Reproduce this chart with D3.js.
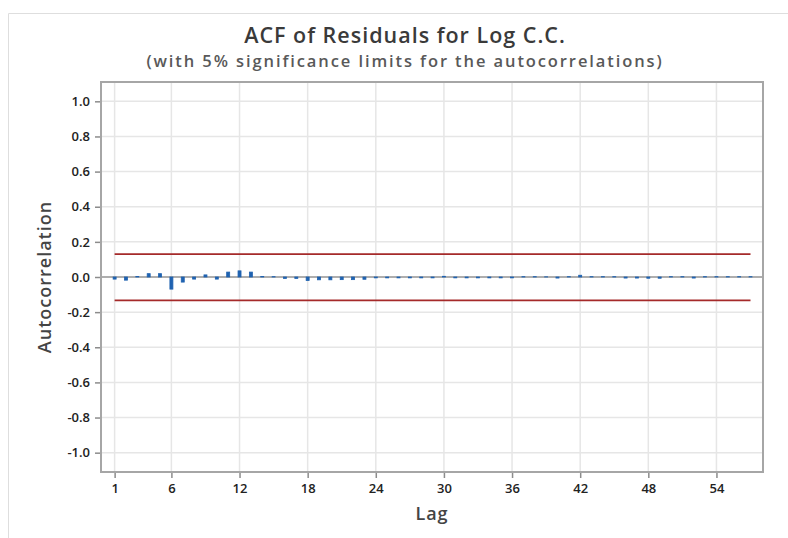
<!DOCTYPE html>
<html>
<head>
<meta charset="utf-8">
<script src="https://cdn.jsdelivr.net/npm/d3@7"></script>
<style>
  body { margin: 0; background: #fff; }
  text { font-family: "Open Sans", "Noto Sans", sans-serif; }
</style>
</head>
<body>
<div id="acf-chart"></div>
<script>
// ACF of residuals, lags 1..57
const lags = d3.range(1, 58);
const acf = [
  -0.012, -0.018, 0.003, 0.019, 0.019, -0.069, -0.029, -0.012, 0.012, -0.012,
  0.028, 0.035, 0.028, 0.003, 0.002, -0.008, -0.008, -0.020, -0.016, -0.016,
  -0.015, -0.015, -0.013, -0.005, -0.005, -0.005, -0.005, -0.005, -0.005, 0.004,
  -0.005, -0.005, -0.005, -0.005, -0.005, -0.005, 0.002, 0.002, 0.001, -0.006,
  0.002, 0.010, 0.002, 0.002, 0.002, -0.006, -0.006, -0.007, -0.007, 0.002,
  0.002, -0.006, 0.002, 0.002, 0.002, 0.002, 0.002
];
const upperLimit = 0.130, lowerLimit = -0.133;
const yTicks = d3.range(-1, 1.01, 0.2);
const xTicks = [1, 6, 12, 18, 24, 30, 36, 42, 48, 54];

const width = 788, height = 538;
const margin = {top: 82, right: 25, bottom: 66, left: 101};

const svg = d3.select("#acf-chart")
  .append("svg")
  .attr("width", width)
  .attr("height", height);

// light panel border
svg.append("path")
  .attr("d", "M8.5,538V13.5H788")
  .attr("fill", "none")
  .attr("stroke", "#dedede");

const x = d3.scaleLinear().domain([-0.2, 58.1]).range([margin.left, width - margin.right]);
const y = d3.scaleLinear().domain([-1.11, 1.11]).range([height - margin.bottom, margin.top]);

// gridlines
svg.append("g")
  .attr("stroke", "#e6e6e6")
  .attr("stroke-width", 1.5)
  .call(g => g.selectAll(".h").data(yTicks).join("line")
    .attr("x1", margin.left).attr("x2", width - margin.right)
    .attr("y1", d => y(d)).attr("y2", d => y(d)))
  .call(g => g.selectAll(".v").data(xTicks).join("line")
    .attr("x1", d => x(d)).attr("x2", d => x(d))
    .attr("y1", margin.top).attr("y2", height - margin.bottom));

// zero line
svg.append("line")
  .attr("x1", margin.left).attr("x2", width - margin.right)
  .attr("y1", y(0)).attr("y2", y(0))
  .attr("stroke", "#9a9a9a")
  .attr("stroke-width", 1.5);

// significance limits
svg.append("g")
  .attr("stroke", "#a52a2a")
  .attr("stroke-width", 1.8)
  .selectAll("line")
  .data([upperLimit, lowerLimit])
  .join("line")
  .attr("x1", x(lags[0])).attr("x2", x(lags[lags.length - 1]))
  .attr("y1", d => y(d)).attr("y2", d => y(d));

// acf bars
svg.append("g")
  .attr("fill", "#1f62b0")
  .attr("stroke", "#1f62b0")
  .attr("stroke-width", 0.8)
  .selectAll("rect")
  .data(lags)
  .join("rect")
  .attr("x", (d, i) => x(d) - 1.5)
  .attr("width", 3)
  .attr("y", (d, i) => y(Math.max(0, acf[i])))
  .attr("height", (d, i) => Math.abs(y(acf[i]) - y(0)));

// frame
svg.append("rect")
  .attr("x", margin.left).attr("y", margin.top)
  .attr("width", width - margin.left - margin.right)
  .attr("height", height - margin.top - margin.bottom)
  .attr("fill", "none")
  .attr("stroke", "#a6a6a6")
  .attr("stroke-width", 2);

// axes
const yAxis = svg.append("g")
  .attr("transform", `translate(${margin.left - 1},0)`)
  .call(d3.axisLeft(y).tickValues(yTicks).tickSize(5).tickPadding(5));
const xAxis = svg.append("g")
  .attr("transform", `translate(0,${height - margin.bottom + 1})`)
  .call(d3.axisBottom(x).tickValues(xTicks).tickSize(5).tickPadding(6));

[yAxis, xAxis].forEach(g => {
  g.select(".domain").remove();
  g.selectAll(".tick line").attr("stroke", "#8c8c8c").attr("stroke-width", 1.5);
  g.selectAll(".tick text")
    .attr("fill", "#222")
    .attr("font-size", 13)
    .attr("font-weight", 600)
    .attr("font-family", "Open Sans, Noto Sans, sans-serif");
});
yAxis.selectAll(".tick text").text(d => d3.format(".1f")(Math.abs(d) < 1e-9 ? 0 : d).replace("−", "-"));

// titles
svg.append("text")
  .attr("x", 405).attr("y", 42.5)
  .attr("text-anchor", "middle")
  .attr("font-size", 21.5)
  .attr("font-weight", 600)
  .attr("letter-spacing", 1)
  .attr("fill", "#3a3a3a")
  .text("ACF of Residuals for Log C.C.");

svg.append("text")
  .attr("x", 405).attr("y", 66.5)
  .attr("text-anchor", "middle")
  .attr("font-size", 16.5)
  .attr("font-weight", 600)
  .attr("letter-spacing", 1.9)
  .attr("fill", "#595959")
  .text("(with 5% significance limits for the autocorrelations)");

svg.append("text")
  .attr("transform", `translate(51,${y(0)}) rotate(-90)`)
  .attr("text-anchor", "middle")
  .attr("font-size", 18)
  .attr("font-weight", 600)
  .attr("letter-spacing", 1)
  .attr("fill", "#444")
  .text("Autocorrelation");

svg.append("text")
  .attr("x", (margin.left + width - margin.right) / 2)
  .attr("y", 520)
  .attr("text-anchor", "middle")
  .attr("font-size", 18)
  .attr("font-weight", 600)
  .attr("letter-spacing", 1)
  .attr("fill", "#444")
  .text("Lag");
</script>
</body>
</html>
